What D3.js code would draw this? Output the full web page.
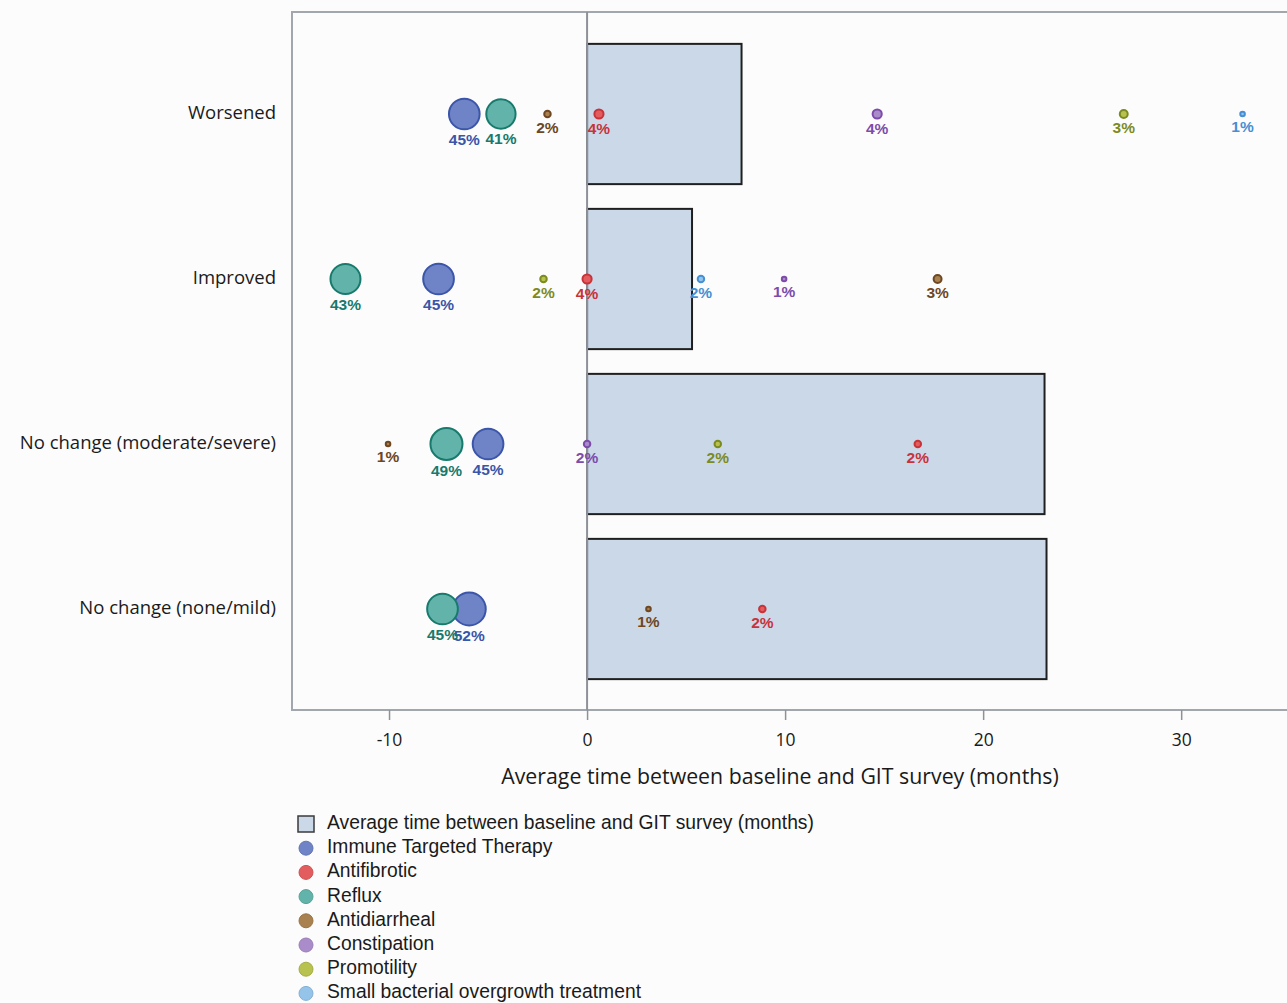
<!DOCTYPE html>
<html>
<head>
<meta charset="utf-8">
<script src="https://cdn.jsdelivr.net/npm/d3@7"></script>
<style>
  body { margin: 0; background: #fcfcfc; }
  svg { display: block; }
</style>
</head>
<body>
<div id="chart"></div>
<script>
// categories (top to bottom)
const categories = [
  'Worsened',
  'Improved',
  'No change (moderate/severe)',
  'No change (none/mild)',
]

// average months between baseline and GIT survey
const avgMonths = [7.8, 5.3, 23.1, 23.2]

const treatments = [
  'Immune Targeted Therapy',
  'Antifibrotic',
  'Reflux',
  'Antidiarrheal',
  'Constipation',
  'Promotility',
  'Small bacterial overgrowth treatment',
]

// dot positions (months) and percent per category, per treatment
const dotGroup = [
  'Worsened', 'Worsened', 'Worsened', 'Worsened', 'Worsened', 'Worsened', 'Worsened',
  'Improved', 'Improved', 'Improved', 'Improved', 'Improved', 'Improved', 'Improved',
  'No change (moderate/severe)', 'No change (moderate/severe)', 'No change (moderate/severe)',
  'No change (moderate/severe)', 'No change (moderate/severe)', 'No change (moderate/severe)',
  'No change (none/mild)', 'No change (none/mild)', 'No change (none/mild)', 'No change (none/mild)',
]
const dotTreatment = [
  'Immune Targeted Therapy', 'Reflux', 'Antidiarrheal', 'Antifibrotic', 'Constipation', 'Promotility', 'Small bacterial overgrowth treatment',
  'Immune Targeted Therapy', 'Reflux', 'Promotility', 'Antifibrotic', 'Small bacterial overgrowth treatment', 'Constipation', 'Antidiarrheal',
  'Antidiarrheal', 'Immune Targeted Therapy', 'Reflux', 'Constipation', 'Promotility', 'Antifibrotic',
  'Immune Targeted Therapy', 'Reflux', 'Antidiarrheal', 'Antifibrotic',
]
const dotMonths = [
  -6.2, -4.35, -2.0, 0.6, 14.65, 27.1, 33.1,
  -7.5, -12.2, -2.2, 0.0, 5.75, 9.95, 17.7,
  -10.05, -5.0, -7.1, 0.0, 6.6, 16.7,
  -5.95, -7.3, 3.1, 8.85,
]
const dotPercent = [
  45, 41, 2, 4, 4, 3, 1,
  45, 43, 2, 4, 2, 1, 3,
  1, 45, 49, 2, 2, 2,
  52, 45, 1, 2,
]

const xTicks = [-10, 0, 10, 20, 30]
const xTitle = 'Average time between baseline and GIT survey (months)'
const barLegend = 'Average time between baseline and GIT survey (months)'

const fills = ['#6f84c6', '#e35d5f', '#62b4ab', '#a8814f', '#ab8ccb', '#b8c24e', '#95c4ea']
const strokes = ['#3b55a9', '#c8333a', '#177a6c', '#6e4722', '#7d4cab', '#7b8b1f', '#4590d4']

const width = 1287
const height = 1003
const plotTop = 12
const plotBottom = 710
const plotLeft = 292

const svg = d3
  .select('#chart')
  .append('svg')
  .attr('width', width)
  .attr('height', height)
  .style('background', '#fcfcfc')

const xScale = d3.scaleLinear().domain([-14.9, 36]).range([plotLeft, 1300])

const yScale = d3
  .scaleBand()
  .domain(categories)
  .range([31.5, 691.5])
  .paddingInner(0.15)
  .paddingOuter(0.075)

const rScale = d3.scaleSqrt().domain([0, 52]).range([0, 16.5])

const fillScale = d3.scaleOrdinal().domain(treatments).range(fills)
const strokeScale = d3.scaleOrdinal().domain(treatments).range(strokes)

const dots = dotMonths.map((m, i) => ({
  group: dotGroup[i],
  treatment: dotTreatment[i],
  x: m,
  pct: dotPercent[i],
}))

// frame
svg
  .append('path')
  .attr(
    'd',
    d3.line()([
      [width + 10, plotTop],
      [plotLeft, plotTop],
      [plotLeft, plotBottom],
      [width + 10, plotBottom],
    ]),
  )
  .attr('fill', 'none')
  .attr('stroke', '#a2a6ad')
  .attr('stroke-width', 2)

// bars
svg
  .selectAll('rect.bar')
  .data(categories)
  .join('rect')
  .attr('class', 'bar')
  .attr('x', xScale(0))
  .attr('y', d => yScale(d))
  .attr('width', (d, i) => xScale(avgMonths[i]) - xScale(0))
  .attr('height', yScale.bandwidth())
  .attr('fill', '#cad8e8')
  .attr('stroke', '#1f1f1f')
  .attr('stroke-width', 2)

// zero reference line
svg
  .append('line')
  .attr('x1', xScale(0))
  .attr('x2', xScale(0))
  .attr('y1', plotTop)
  .attr('y2', plotBottom)
  .attr('stroke', '#8e9298')
  .attr('stroke-width', 2)

// x axis
svg
  .append('g')
  .attr('transform', `translate(0, ${plotBottom})`)
  .call(
    d3
      .axisBottom(xScale)
      .tickValues(xTicks)
      .tickFormat(d => String(d))
      .tickSize(10)
      .tickPadding(14),
  )
  .call(g => {
    g.select('.domain').remove()
    g.selectAll('.tick line').attr('stroke', '#8e9298').attr('stroke-width', 1.5)
    g.selectAll('.tick text')
      .attr('fill', '#1a1a1a')
      .style('font-family', '"Open Sans", sans-serif')
      .style('font-size', '17.5px')
  })

svg
  .append('text')
  .attr('x', 780)
  .attr('y', 784)
  .attr('text-anchor', 'middle')
  .style('font-family', '"Open Sans", sans-serif')
  .style('font-size', '21.3px')
  .attr('fill', '#1a1a1a')
  .text(xTitle)

// category labels
svg
  .selectAll('text.cat')
  .data(categories)
  .join('text')
  .attr('class', 'cat')
  .attr('x', 276)
  .attr('y', d => yScale(d) + yScale.bandwidth() / 2)
  .attr('text-anchor', 'end')
  .attr('dominant-baseline', 'middle')
  .style('font-family', '"Open Sans", sans-serif')
  .style('font-size', '18.5px')
  .attr('fill', '#1a1a1a')
  .text(d => d)

// dots
const cy = d => yScale(d.group) + yScale.bandwidth() / 2

svg
  .selectAll('circle.dot')
  .data(dots)
  .join('circle')
  .attr('class', 'dot')
  .attr('cx', d => xScale(d.x))
  .attr('cy', cy)
  .attr('r', d => rScale(d.pct))
  .attr('fill', d => fillScale(d.treatment))
  .attr('stroke', d => strokeScale(d.treatment))
  .attr('stroke-width', 2)

svg
  .selectAll('text.pct')
  .data(dots)
  .join('text')
  .attr('class', 'pct')
  .attr('x', d => xScale(d.x))
  .attr('y', d => cy(d) + rScale(d.pct) + 15.5)
  .attr('text-anchor', 'middle')
  .style('font-family', '"Liberation Sans", Arial, sans-serif')
  .style('font-size', '15.5px')
  .style('font-weight', 'bold')
  .attr('fill', d => strokeScale(d.treatment))
  .text(d => `${d.pct}%`)

// legend
const legendRows = [barLegend, ...treatments]
const legend = svg
  .selectAll('g.legend-row')
  .data(legendRows)
  .join('g')
  .attr('class', 'legend-row')
  .attr('transform', (d, i) => `translate(306, ${824 + i * 24.2})`)

legend.each(function (d, i) {
  const g = d3.select(this)
  if (i === 0) {
    g.append('rect')
      .attr('x', -8)
      .attr('y', -8)
      .attr('width', 16)
      .attr('height', 16)
      .attr('fill', '#cad8e8')
      .attr('stroke', '#3a3a3a')
      .attr('stroke-width', 1.5)
  } else {
    g.append('circle')
      .attr('r', 7)
      .attr('fill', fillScale(d))
      .attr('stroke', d3.color(fillScale(d)).darker(0.3))
      .attr('stroke-width', 1)
  }
  g.append('text')
    .attr('x', 21)
    .attr('dominant-baseline', 'middle')
    .style('font-family', '"Liberation Sans", Arial, sans-serif')
    .style('font-size', '19.3px')
    .attr('fill', '#1a1a1a')
    .text(d)
})
</script>
</body>
</html>
